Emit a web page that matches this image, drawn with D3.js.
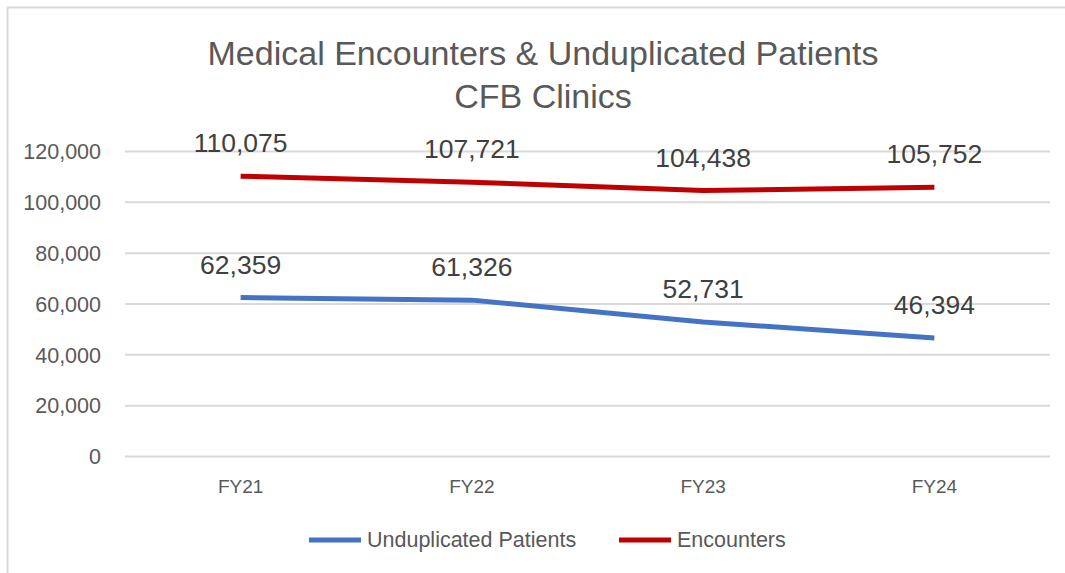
<!DOCTYPE html>
<html>
<head>
<meta charset="utf-8">
<script src="https://cdn.jsdelivr.net/npm/d3@7"></script>
<style>
  html, body { margin: 0; padding: 0; background: #fff; overflow: hidden; }
  svg { display: block; font-family: "Liberation Sans", Arial, sans-serif; }
</style>
</head>
<body>
<div id="chart"></div>
<script>
// chart data
const years = ['FY21', 'FY22', 'FY23', 'FY24'];
const patients = [62359, 61326, 52731, 46394];
const encounters = [110075, 107721, 104438, 105752];
const yTicks = [0, 20000, 40000, 60000, 80000, 100000, 120000];
const titleLines = ['Medical Encounters & Unduplicated Patients', 'CFB Clinics'];

const series = [
    { name: 'Unduplicated Patients', values: patients, color: '#4472C4' },
    { name: 'Encounters', values: encounters, color: '#C00000' }
];

const width = 1065, height = 573;
const plot = { left: 125, right: 1050, top: 151, bottom: 456 };

const svg = d3.select('#chart').append('svg')
    .attr('width', width)
    .attr('height', height);

// outer chart border (only top/left visible in the crop)
svg.append('rect')
    .attr('x', 7.5).attr('y', 7.5)
    .attr('width', 1080).attr('height', 600)
    .attr('fill', 'none')
    .attr('stroke', '#d9d9d9')
    .attr('stroke-width', 2);

const x = d3.scaleBand().domain(years).range([plot.left, plot.right]);
const y = d3.scaleLinear().domain([0, 120000]).range([plot.bottom, plot.top]);
const fmt = d3.format(',');

// title
svg.append('g').selectAll('text')
    .data(titleLines)
    .join('text')
    .attr('x', 543)
    .attr('y', (d, i) => 65 + i * 43)
    .attr('text-anchor', 'middle')
    .attr('font-size', '34px')
    .attr('fill', '#595959')
    .text(d => d);

// gridlines + y labels
const yAxis = svg.append('g')
    .attr('transform', `translate(${plot.left},0)`)
    .call(d3.axisLeft(y).tickValues(yTicks).tickFormat(fmt)
        .tickSize(-(plot.right - plot.left)).tickPadding(24));
yAxis.select('.domain').remove();
yAxis.selectAll('.tick line').attr('stroke', '#d9d9d9').attr('stroke-width', 2);
yAxis.selectAll('.tick text')
    .attr('font-size', '21.5px')
    .attr('fill', '#595959')
    .attr('font-family', '"Liberation Sans", Arial, sans-serif')
    .attr('dy', '0.36em');

// x labels
const xAxis = svg.append('g')
    .attr('transform', `translate(0,${plot.bottom})`)
    .call(d3.axisBottom(x).tickSize(0).tickPadding(24));
xAxis.select('.domain').remove();
xAxis.selectAll('.tick text')
    .attr('font-size', '19px')
    .attr('fill', '#595959')
    .attr('font-family', '"Liberation Sans", Arial, sans-serif');

// lines
const line = d3.line()
    .x((d, i) => x(years[i]) + x.bandwidth() / 2)
    .y(d => y(d));

svg.append('g').selectAll('path')
    .data(series)
    .join('path')
    .attr('d', d => line(d.values))
    .attr('fill', 'none')
    .attr('stroke', d => d.color)
    .attr('stroke-width', 5)
    .attr('stroke-linejoin', 'round');

// data labels
series.forEach(s => {
    svg.append('g').selectAll('text')
        .data(s.values)
        .join('text')
        .attr('x', (d, i) => x(years[i]) + x.bandwidth() / 2)
        .attr('y', d => y(d) - 24)
        .attr('text-anchor', 'middle')
        .attr('font-size', '26.5px')
        .attr('fill', '#404040')
        .text(d => fmt(d));
});

// legend
const legendPos = [309, 619];
const legend = svg.append('g').selectAll('g')
    .data(series)
    .join('g')
    .attr('transform', (d, i) => `translate(${legendPos[i]},540)`);
legend.append('line')
    .attr('x1', 0).attr('x2', 52)
    .attr('stroke', d => d.color)
    .attr('stroke-width', 5);
legend.append('text')
    .attr('x', 58)
    .attr('y', 7)
    .attr('font-size', '21.5px')
    .attr('fill', '#595959')
    .text(d => d.name);
</script>
</body>
</html>
